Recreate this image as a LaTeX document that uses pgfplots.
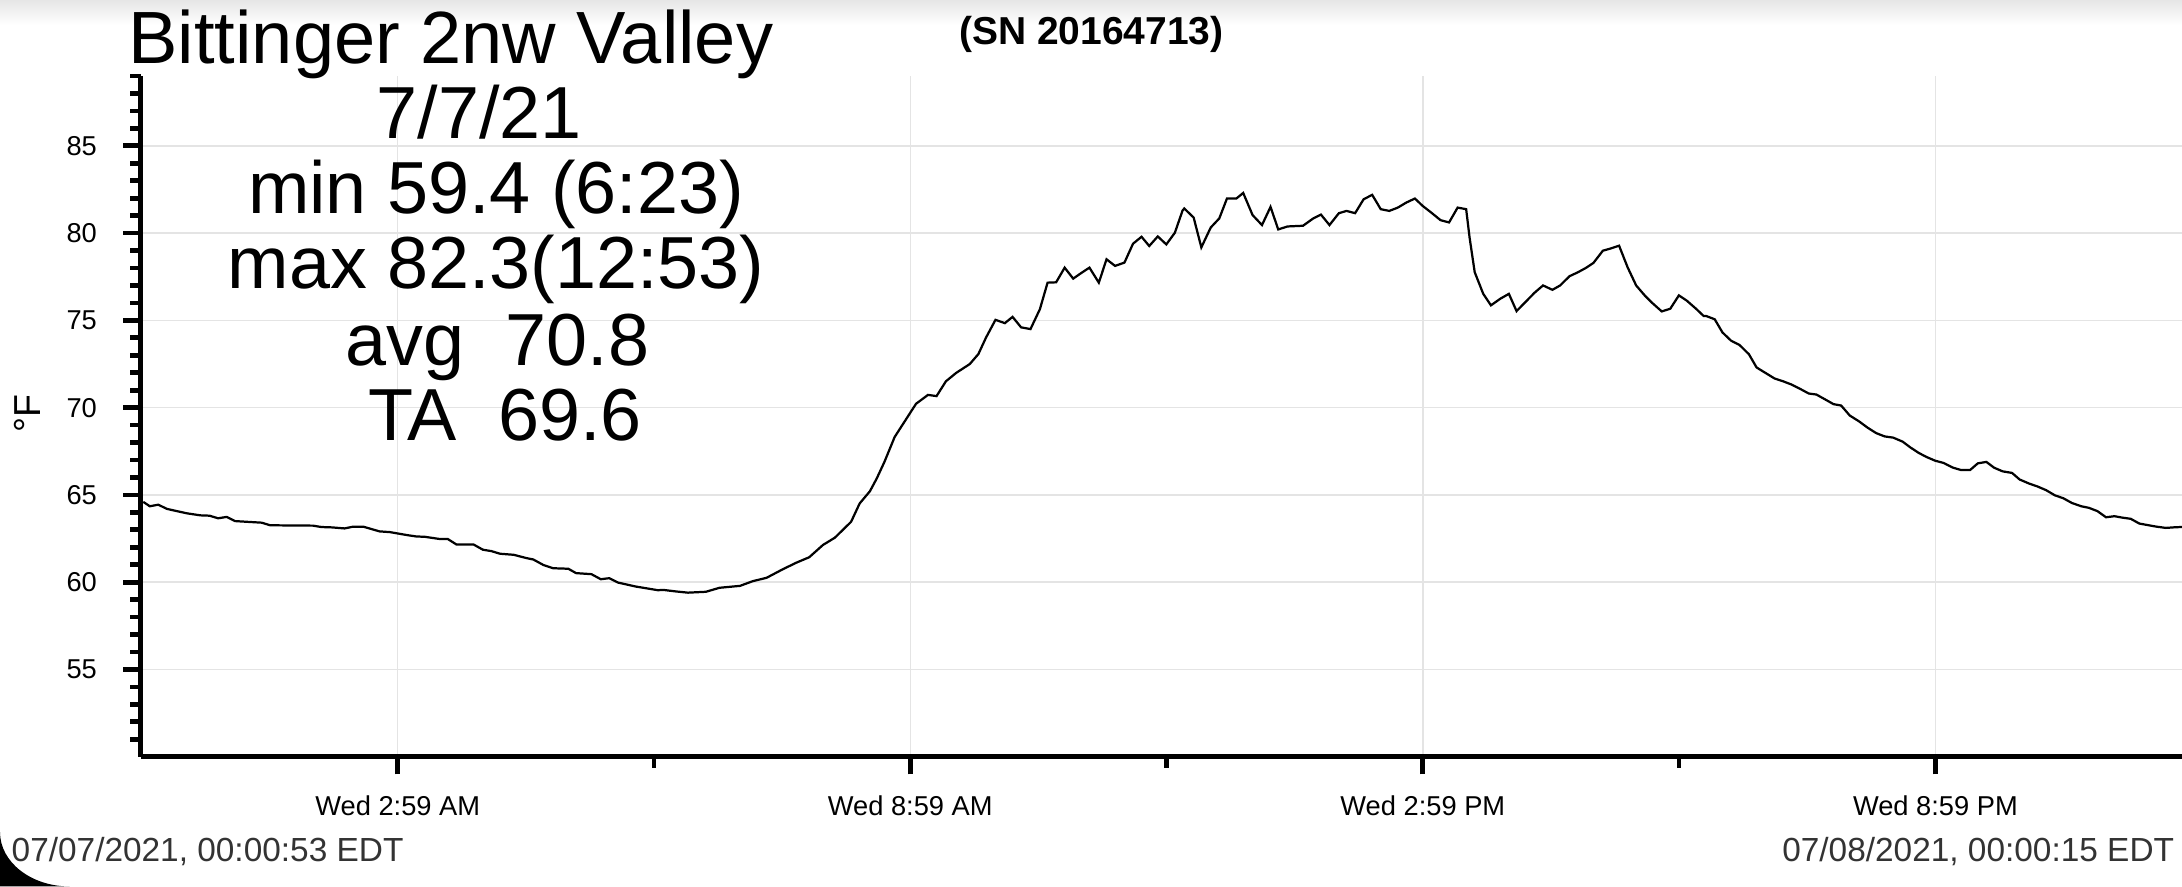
\documentclass[border=0pt]{standalone}
\usepackage{pgfplots}
\pgfplotsset{compat=1.18}
\usepackage{fontspec}
\setmainfont{Liberation Sans}
\definecolor{gridgray}{RGB}{228,228,228}
\definecolor{labgray}{RGB}{51,51,51}
\begin{document}
\begin{tikzpicture}
\useasboundingbox (-50.65pt,-46.6pt) rectangle (733.35pt,271.9pt);
\shade[top color=black!10, bottom color=white] (-50.65pt,263pt) rectangle (733.35pt,271.9pt);
\begin{axis}[
  at={(0pt,0pt)}, anchor=south west, scale only axis,
  width=733.35pt, height=244.6pt,
  xmin=-0.023, xmax=23.87, ymin=50, ymax=89,
  axis lines=left, axis line style={-},
  x axis line style={line width=1.9pt},
  y axis line style={line width=1.8pt},
  xtick={2.983,8.983,14.983,20.983},
  xticklabels={Wed 2:59 AM, Wed 8:59 AM, Wed 2:59 PM, Wed 8:59 PM},
  minor xtick={5.983,11.983,17.983},
  ytick={55,60,...,85},
  minor ytick={51,52,53,54,56,57,58,59,61,62,63,64,66,67,68,69,71,72,73,74,76,77,78,79,81,82,83,84,86,87,88,89},
  tick align=outside,
  major tick length=6.3pt, minor tick length=3.9pt,
  tick style={black, line width=1.7pt},
  grid=major, major grid style={gridgray, line width=0.5pt},
  tick label style={font=\fontsize{9.8}{11}\selectfont},
  xticklabel style={yshift=-4.2pt},
  yticklabel style={xshift=-6pt},
  /pgf/number format/assume math mode=true,
  clip=true,
]
\addplot[black, line width=0.8pt] coordinates {
(0.004,64.6)(0.08,64.35)(0.18,64.44)(0.28,64.2)(0.39,64.08)(0.51,63.95)(0.67,63.83)(0.78,63.81)(0.88,63.66)(0.98,63.74)(1.08,63.5)(1.25,63.45)(1.39,63.41)(1.49,63.26)(1.99,63.24)(2.09,63.16)(2.21,63.14)(2.36,63.08)(2.46,63.18)(2.58,63.18)(2.77,62.91)(2.89,62.87)(3.09,62.7)(3.2,62.62)(3.3,62.6)(3.48,62.47)(3.57,62.47)(3.67,62.16)(3.87,62.16)(3.98,61.86)(4.08,61.78)(4.18,61.63)(4.34,61.57)(4.49,61.38)(4.57,61.3)(4.69,60.98)(4.8,60.8)(4.98,60.77)(5.07,60.52)(5.25,60.46)(5.36,60.17)(5.46,60.23)(5.56,59.98)(5.77,59.75)(6.03,59.54)
(6.088,59.56)(6.24,59.47)(6.38,59.4)(6.59,59.45)(6.75,59.68)(6.99,59.79)(7.14,60.06)(7.30,60.25)(7.49,60.74)(7.65,61.12)(7.80,61.43)(7.96,62.13)(8.10,62.55)(8.29,63.46)(8.39,64.51)(8.51,65.21)(8.59,65.94)(8.68,66.89)(8.80,68.32)(8.90,69.08)(9.05,70.22)(9.19,70.73)(9.29,70.66)(9.40,71.51)(9.52,71.99)(9.68,72.50)(9.78,73.07)(9.87,74.02)(9.98,75.03)(10.09,74.84)(10.18,75.20)(10.28,74.60)(10.39,74.50)(10.50,75.64)(10.59,77.16)(10.69,77.18)(10.79,78.02)(10.89,77.39)(10.98,77.7)(11.08,78.02)(11.19,77.16)(11.28,78.50)(11.38,78.12)(11.49,78.31)(11.59,79.39)(11.69,79.79)(11.78,79.26)(11.88,79.81)(11.98,79.35)(12.08,80.02)(12.17,81.29)
(12.19,81.41)(12.30,80.89)(12.39,79.18)(12.50,80.32)(12.60,80.84)(12.69,81.98)(12.80,81.98)(12.88,82.3)(12.99,81.03)(13.10,80.46)(13.20,81.50)(13.29,80.21)(13.40,80.38)(13.58,80.42)(13.70,80.84)(13.79,81.06)(13.89,80.46)(14.00,81.14)(14.09,81.27)(14.19,81.14)(14.29,81.94)(14.39,82.19)(14.49,81.37)(14.59,81.27)(14.69,81.46)(14.79,81.75)(14.89,81.98)(14.98,81.56)(15.08,81.18)(15.19,80.74)(15.29,80.61)(15.39,81.46)(15.49,81.37)(15.53,79.75)(15.59,77.76)(15.69,76.52)(15.78,75.86)(15.89,76.24)(15.99,76.52)(16.08,75.53)(16.19,76.08)(16.29,76.58)(16.39,77.00)(16.50,76.75)(16.59,77.00)(16.70,77.53)(16.80,77.76)(16.89,78.0)(16.98,78.29)(17.09,78.99)(17.19,79.13)(17.28,79.28)(17.38,78.04)(17.48,77.0)(17.58,76.43)(17.67,75.99)(17.78,75.51)(17.88,75.67)(17.98,76.43)(18.07,76.14)(18.18,75.67)(18.27,75.25)
(18.30,75.25)(18.40,75.06)(18.49,74.31)(18.59,73.84)(18.69,73.59)(18.80,73.06)(18.89,72.30)(19.00,71.97)(19.10,71.67)(19.20,71.51)(19.29,71.34)(19.39,71.10)(19.50,70.81)(19.59,70.75)(19.70,70.45)(19.79,70.20)(19.88,70.12)(19.98,69.55)(20.09,69.21)(20.19,68.85)(20.29,68.54)(20.39,68.35)(20.49,68.28)(20.60,68.05)(20.69,67.72)(20.79,67.40)(20.88,67.17)(20.98,66.96)(21.08,66.83)(21.19,66.56)(21.28,66.43)(21.39,66.43)(21.48,66.81)(21.58,66.89)(21.67,66.56)(21.77,66.35)(21.88,66.26)(21.97,65.88)(22.08,65.65)(22.18,65.48)(22.28,65.27)(22.38,64.98)(22.48,64.81)(22.58,64.54)(22.69,64.35)(22.78,64.26)(22.88,64.07)(22.98,63.72)(23.08,63.78)(23.17,63.70)(23.27,63.63)(23.37,63.36)(23.47,63.27)(23.56,63.19)(23.68,63.11)(23.80,63.15)(23.93,63.17)(24.00,63.2)
};
\end{axis}
\node[anchor=base, inner sep=0pt, font=\fontsize{26.6}{28}\selectfont] at (111.35pt,249.15pt) {Bittinger 2nw Valley};
\node[anchor=base, inner sep=0pt, font=\fontsize{14}{16}\selectfont\bfseries] at (341.5pt,255.75pt) {(SN 20164713)};
\node[anchor=base, inner sep=0pt, font=\fontsize{26.5}{28}\selectfont] at (121.5pt,222.2pt) {7/7/21};
\node[anchor=base, inner sep=0pt, font=\fontsize{26.5}{28}\selectfont] at (127.6pt,195.25pt) {min 59.4 (6:23)};
\node[anchor=base, inner sep=0pt, font=\fontsize{26.5}{28}\selectfont] at (127.6pt,168.3pt) {max 82.3(12:53)};
\node[anchor=base, inner sep=0pt, font=\fontsize{26.5}{28}\selectfont] at (128.1pt,140.75pt) {avg~~70.8};
\node[anchor=base, inner sep=0pt, font=\fontsize{26.5}{28}\selectfont] at (130.8pt,113.8pt) {TA~~69.6};
\node[rotate=90, anchor=base, inner sep=0pt, font=\fontsize{13.5}{15}\selectfont] at (-36.05pt,123.4pt) {°F};
\node[anchor=base west, inner sep=0pt, text=labgray, font=\fontsize{12}{14}\selectfont] at (-46.65pt,-37.6pt) {07/07/2021, 00:00:53 EDT};
\node[anchor=base east, inner sep=0pt, text=labgray, font=\fontsize{12}{14}\selectfont] at (730.7pt,-37.6pt) {07/08/2021, 00:00:15 EDT};
\fill[black] (-50.65pt,-27.1pt) arc[start angle=180, end angle=270, x radius=25pt, y radius=19.5pt] -- (-50.65pt,-46.6pt) -- cycle;
\end{tikzpicture}
\end{document}
